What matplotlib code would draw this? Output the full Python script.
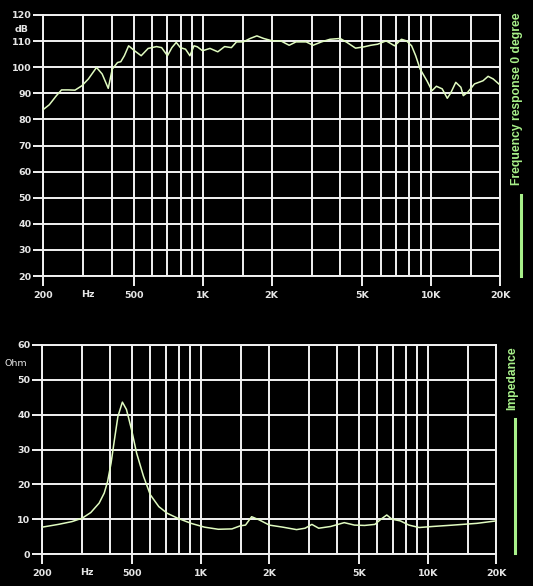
import matplotlib
matplotlib.use("Agg")
import matplotlib.pyplot as plt
from matplotlib.lines import Line2D
from matplotlib.ticker import NullFormatter
from matplotlib.transforms import blended_transform_factory

# ---------------- data ----------------
fr_freq = [200, 213, 229, 241, 258, 276, 296, 316, 343, 363, 386, 402, 424, 438, 454,
           474, 503, 538, 577, 628, 661, 701, 733, 766, 798, 841, 879, 916, 948, 998,
           1076, 1164, 1247, 1335, 1406, 1505, 1612, 1726, 1849, 2014, 2194, 2390,
           2560, 2838, 3039, 3310, 3606, 3996, 4280, 4664, 5081, 5441, 5826, 6347,
           6914, 7406, 7796, 8206, 8551, 8941, 9576, 10080, 10538, 11170, 11758,
           12168, 12810, 13486, 13814, 14442, 15468, 16852, 17740, 18676, 20000]
fr_db = [83.7, 85.6, 89.1, 91.3, 91.3, 91.2, 92.9, 95.5, 99.9, 97.4, 91.9, 99.3, 101.8,
         102.1, 104.4, 108.2, 106.3, 104.4, 107.2, 107.9, 107.5, 104.4, 107.5, 109.5,
         107.5, 106.9, 104.4, 108.2, 107.8, 106.3, 107.2, 105.9, 107.9, 107.5, 109.7,
         109.7, 111.0, 112.0, 111.0, 110.1, 110.1, 108.4, 109.7, 109.7, 108.4, 109.7,
         110.7, 111.0, 109.5, 107.3, 107.8, 108.4, 108.8, 110.1, 108.2, 110.7, 110.1,
         108.2, 104.4, 99.3, 94.8, 91.0, 92.7, 91.7, 88.1, 90.1, 94.2, 92.3, 89.1,
         90.4, 93.6, 94.8, 96.5, 95.5, 93.2]

imp_freq = [200, 236, 271, 301, 328, 357, 376, 389, 403, 417, 432, 452, 471, 496, 522,
            560, 600, 654, 712, 790, 907, 1041, 1196, 1373, 1496, 1576, 1677, 1810,
            2007, 2304, 2645, 2884, 3090, 3311, 3736, 4290, 4758, 5277, 5853, 6228,
            6604, 6955, 7582, 8264, 9168, 10522, 12946, 16484, 20000]
imp_ohm = [7.7, 8.5, 9.3, 10.3, 11.9, 14.6, 17.5, 20.8, 26.1, 32.8, 39.5, 43.6, 41.5,
           35.7, 29.0, 22.3, 17.0, 13.6, 11.7, 10.3, 8.8, 7.7, 7.1, 7.2, 8.1, 8.3, 10.7,
           9.8, 8.3, 7.7, 7.0, 7.4, 8.5, 7.4, 7.9, 9.0, 8.3, 8.2, 8.5, 10.0, 11.2, 10.0,
           9.5, 8.3, 7.6, 7.9, 8.3, 8.8, 9.5]

grid_freqs = [300, 400, 600, 700, 800, 900, 1500, 3000, 4000,
              6000, 7000, 8000, 9000, 15000]
label_freqs = [200, 500, 1000, 2000, 5000, 10000, 20000]
label_texts = ["200", "500", "1K", "2K", "5K", "10K", "20K"]
fr_yticks = [20, 30, 40, 50, 60, 70, 80, 90, 100, 110, 120]
imp_yticks = [0, 10, 20, 30, 40, 50, 60]

# ---------------- style ----------------
BG = "black"
GRID = "#f2f2f2"
CURVE = "#e0fbc0"
GREEN = "#a8f08a"
LABEL = "#e6e6e6"
GLW = 1.4
TFS = 6.8

fig = plt.figure(figsize=(5.33, 5.86), dpi=100, facecolor=BG)

ax1 = fig.add_axes([43 / 533, 1 - 276 / 586, 457 / 533, 261 / 586])
ax2 = fig.add_axes([42 / 533, 1 - 554 / 586, 454 / 533, 209 / 586])


def style(ax, yticks, ylim):
    ax.set_facecolor(BG)
    ax.set_xscale("log")
    ax.set_xlim(200, 20000)
    ax.set_ylim(*ylim)
    for s in ax.spines.values():
        s.set_color(GRID)
        s.set_linewidth(GLW)
    ax.set_xticks(label_freqs)
    ax.set_xticklabels(label_texts)
    ax.set_xticks(grid_freqs, minor=True)
    ax.xaxis.set_minor_formatter(NullFormatter())
    ax.set_yticks(yticks)
    ax.set_yticklabels([str(v) for v in yticks])
    ax.tick_params(axis="both", which="major", direction="out", length=7,
                   width=GLW, color=GRID, labelcolor=LABEL, labelsize=TFS)
    ax.tick_params(axis="x", which="major", pad=3.5)
    ax.tick_params(axis="y", which="major", pad=1.5)
    ax.tick_params(axis="both", which="minor", length=0)
    for lab in ax.get_xticklabels() + ax.get_yticklabels():
        lab.set_fontweight("bold")
    ax.grid(True, which="both", color=GRID, linewidth=GLW)
    ax.set_axisbelow(True)
    tr = blended_transform_factory(ax.transData, ax.transAxes)
    return tr


tr1 = style(ax1, fr_yticks, (20, 120))
tr2 = style(ax2, imp_yticks, (0, 60))

ax1.plot(fr_freq, fr_db, color=CURVE, linewidth=1.1, zorder=5)
ax2.plot(imp_freq, imp_ohm, color=CURVE, linewidth=1.1, zorder=5)

# "Hz" labels in the tick-label row
ax1.text(315, -0.07, "Hz", transform=tr1, color=LABEL, fontsize=TFS,
         fontweight="bold", ha="center", va="center")
ax2.text(315, -0.09, "Hz", transform=tr2, color=LABEL, fontsize=TFS,
         fontweight="bold", ha="center", va="center")

# unit labels
ty1 = blended_transform_factory(ax1.transAxes, ax1.transData)
ax1.text(-0.048, 114.3, "dB", transform=ty1, color=LABEL, fontsize=TFS,
         fontweight="bold", ha="center", va="center")
ty2 = blended_transform_factory(ax2.transAxes, ax2.transData)
ax2.text(-0.058, 54.8, "Ohm", transform=ty2, color=LABEL, fontsize=TFS,
         ha="center", va="center")

# right-side legends
fig.text(517 / 533, 1 - 98.5 / 586, "Frequency response 0 degree", rotation=90,
         color=GREEN, fontsize=8.7, fontweight="bold", family="Liberation Sans",
         ha="center", va="center")
fig.add_artist(Line2D([521 / 533, 521 / 533], [1 - 195 / 586, 1 - 276 / 586],
                      color=GREEN, linewidth=2.2, transform=fig.transFigure))
fig.text(512.7 / 533, 1 - 378.5 / 586, "Impedance", rotation=90,
         color=GREEN, fontsize=8.7, fontweight="bold", family="Liberation Sans",
         ha="center", va="center")
fig.add_artist(Line2D([515 / 533, 515 / 533], [1 - 419 / 586, 1 - 553 / 586],
                      color=GREEN, linewidth=2.2, transform=fig.transFigure))

fig.savefig("out.png", dpi=100, facecolor=BG)
